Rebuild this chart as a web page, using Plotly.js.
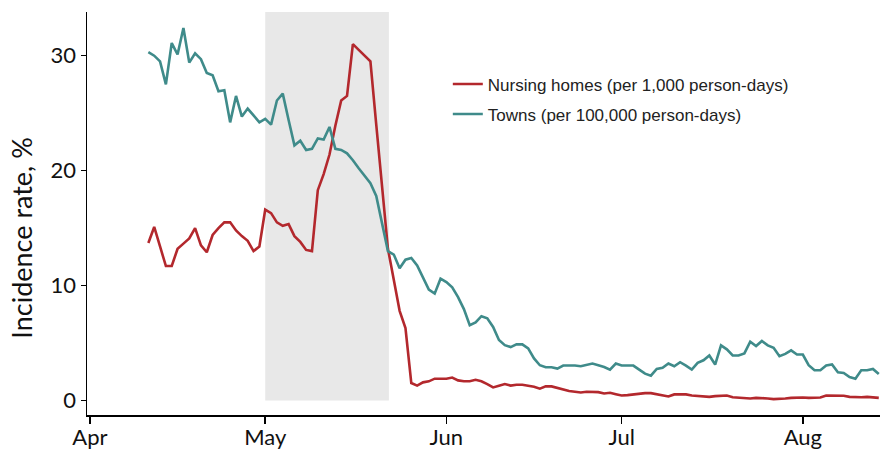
<!DOCTYPE html>
<html>
<head>
<meta charset="utf-8">
<script src="https://cdn.plot.ly/plotly-3.0.1.min.js"></script>
<style>html,body{margin:0;padding:0;background:#fff;}#chart{width:882px;height:449px;}</style>
</head>
<body>
<div id="chart"></div>
<script>
// Daily series from 2020-04-11 to 2020-08-14
const startDate = '2020-04-11';
const nursingHomes = [
  13.7, 15.1, 13.4, 11.7, 11.7, 13.2, 13.65, 14.1, 15.0, 13.5,
  12.9, 14.4, 15.0, 15.5, 15.5, 14.8, 14.3, 13.9, 13.0, 13.4,
  16.6, 16.3, 15.5, 15.2, 15.35, 14.3, 13.8, 13.1, 13.0, 18.3,
  19.7, 21.4, 23.9, 26.1, 26.5, 31.0, 30.5, 30.0, 29.5, 24.0,
  18.5, 13.2, 10.5, 7.8, 6.3, 1.52, 1.3, 1.58, 1.67, 1.9,
  1.9, 1.9, 2.0, 1.75, 1.67, 1.67, 1.8, 1.67, 1.43, 1.14,
  1.29, 1.43, 1.3, 1.37, 1.37, 1.3, 1.2, 1.03, 1.23, 1.23,
  1.1, 1.0, 0.82, 0.76, 0.7, 0.76, 0.76, 0.73, 0.61, 0.67,
  0.55, 0.44, 0.47, 0.53, 0.64, 0.64, 0.64, 0.55, 0.47, 0.35,
  0.53, 0.53, 0.53, 0.44, 0.38, 0.32, 0.32, 0.38, 0.44, 0.44,
  0.29, 0.26, 0.23, 0.18, 0.23, 0.23, 0.18, 0.12, 0.12, 0.18,
  0.23, 0.26, 0.26, 0.23, 0.26, 0.26, 0.44, 0.44, 0.44, 0.41,
  0.32, 0.29, 0.29, 0.32, 0.29, 0.23
];
const towns = [
  30.3, 30.0, 29.5, 27.5, 31.1, 30.1, 32.4, 29.4, 30.2, 29.7,
  28.5, 28.3, 26.9, 27.0, 24.2, 26.5, 24.7, 25.4, 24.8, 24.2,
  24.5, 24.0, 26.1, 26.7, 24.4, 22.2, 22.6, 21.8, 21.9, 22.8,
  22.7, 23.8, 21.9, 21.8, 21.5, 20.9, 20.2, 19.6, 18.9, 17.8,
  15.4, 13.0, 12.7, 11.5, 12.25, 12.4, 11.75, 10.7, 9.65, 9.3,
  10.6, 10.3, 9.85, 9.0, 7.95, 6.55, 6.8, 7.34, 7.16, 6.4,
  5.26, 4.82, 4.65, 4.88, 4.88, 4.53, 3.66, 3.07, 2.9, 2.9,
  2.78, 3.04, 3.07, 3.04, 2.98, 3.13, 3.22, 3.07, 2.92, 2.69,
  3.22, 3.04, 3.04, 3.04, 2.69, 2.34, 2.16, 2.75, 2.84, 3.22,
  2.98, 3.33, 3.04, 2.69, 3.27, 3.5, 3.92, 3.13, 4.8, 4.45,
  3.92, 3.92, 4.1, 5.11, 4.74, 5.18, 4.8, 4.59, 3.86, 4.06,
  4.36, 4.0, 4.0, 3.07, 2.63, 2.63, 3.04, 3.13, 2.46, 2.4,
  2.05, 1.9, 2.63, 2.63, 2.75, 2.3
];
const seriesNames = ['Nursing homes (per 1,000 person-days)', 'Towns (per 100,000 person-days)'];
const tickVals = ['2020-04-01', '2020-05-01', '2020-06-01', '2020-07-01', '2020-08-01'];
const tickLabels = ['Apr', 'May', 'Jun', 'Jul', 'Aug'];
const yTicks = [0, 10, 20, 30];
const yTitle = 'Incidence rate, %';
const shadeDates = ['2020-05-01', '2020-05-22 04:00'];

function buildDates(start, n) {
  const out = [];
  const d0 = new Date(start + 'T00:00:00Z');
  for (let i = 0; i < n; i++) {
    const d = new Date(d0.getTime() + i * 86400000);
    out.push(d.toISOString().slice(0, 10));
  }
  return out;
}
const dates = buildDates(startDate, nursingHomes.length);

const traces = [
  {x: dates, y: nursingHomes, name: seriesNames[0], type: 'scatter', mode: 'lines',
   line: {color: '#B3282D', width: 2.6}, legendgroup: 'a'},
  {x: dates, y: towns, name: seriesNames[1], type: 'scatter', mode: 'lines',
   line: {color: '#3F8B8A', width: 2.6}, legendgroup: 'b'}
];

const layout = {
  width: 882, height: 449,
  margin: {l: 87, r: 2, t: 12, b: 34},
  paper_bgcolor: '#fff', plot_bgcolor: '#fff',
  font: {family: 'Lato, "Open Sans", sans-serif', color: '#111'},
  showlegend: true,
  legend: {x: 0.455, y: 0.865, xanchor: 'left', yanchor: 'top',
           font: {family: '"Liberation Sans", Arial, sans-serif', size: 17, color: '#222'},
           bgcolor: 'rgba(0,0,0,0)', tracegroupgap: 5, itemwidth: 30},
  xaxis: {
    type: 'date',
    range: ['2020-03-31 12:00', '2020-08-14 05:00'],
    tickvals: tickVals, ticktext: tickLabels,
    ticks: 'outside', ticklen: 7, tickwidth: 1.5, tickcolor: '#000',
    ticklabelstandoff: -5,
    showline: true, linecolor: '#000', linewidth: 1.5,
    showgrid: false, zeroline: false,
    tickfont: {size: 22, color: '#111'}
  },
  yaxis: {
    range: [-1.26, 33.8],
    tickvals: yTicks,
    ticks: 'outside', ticklen: 5, tickwidth: 1.5, tickcolor: '#000',
    showline: true, linecolor: '#000', linewidth: 1.5,
    showgrid: false, zeroline: false,
    tickfont: {size: 22, color: '#111'}
  },
  annotations: [{
    text: yTitle, xref: 'paper', yref: 'paper', x: -0.082, y: 0.44,
    xanchor: 'center', yanchor: 'middle', textangle: -90, showarrow: false,
    font: {size: 27, color: '#111'}
  }],
  shapes: [{
    type: 'rect', xref: 'x', yref: 'y', layer: 'below',
    x0: shadeDates[0], x1: shadeDates[1], y0: 0, y1: 33.8,
    fillcolor: '#E8E8E8', line: {width: 0}
  }]
};

Plotly.newPlot('chart', traces, layout, {displayModeBar: false, staticPlot: true});
</script>
</body>
</html>
